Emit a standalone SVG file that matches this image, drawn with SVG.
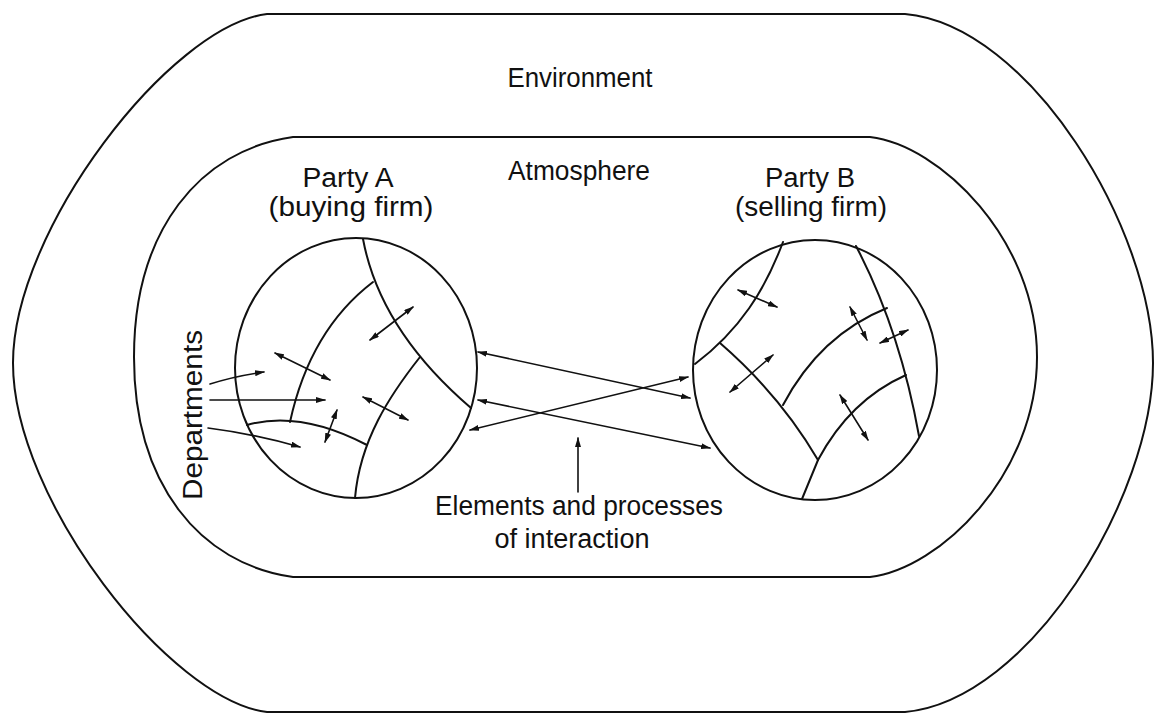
<svg xmlns="http://www.w3.org/2000/svg" width="1160" height="725" viewBox="0 0 1160 725">
<style>
.ln{fill:none;stroke:#111;stroke-width:2;stroke-linecap:round}
.ar{fill:none;stroke:#111;stroke-width:1.6;stroke-linecap:round}
.dbl{marker-start:url(#ah);marker-end:url(#ah)}
.one{marker-end:url(#ah)}
text{font-family:"Liberation Sans",Arial,sans-serif;font-size:27px;fill:#111;text-anchor:middle}
</style>
<defs>
<marker id="ah" viewBox="0 0 10 6" refX="9" refY="3" markerWidth="10" markerHeight="6" markerUnits="userSpaceOnUse" orient="auto-start-reverse">
<path d="M0,0 L10,3 L0,6 z" fill="#111"/>
</marker>
</defs>
<rect width="1160" height="725" fill="#fff"/>
<g id="environment">
<path class="ln" d="M267,14 L905,14 C1030,25 1153,230 1153,363 C1153,496 1030,701 905,712 L267,712 C170,700 13,500 13,363 C13,230 170,26 267,14 Z"/>
<text x="580" y="87" textLength="145" lengthAdjust="spacingAndGlyphs">Environment</text>
</g>
<g id="atmosphere">
<path class="ln" d="M293,137 L870,137 C940,145 1037,240 1037,357 C1037,474 940,569 870,577 L293,577 C200,564 134,484 134,357 C134,230 200,150 293,137 Z"/>
<text x="579" y="180" textLength="142" lengthAdjust="spacingAndGlyphs">Atmosphere</text>
</g>
<g id="partyA">
<text x="348" y="187" textLength="91" lengthAdjust="spacingAndGlyphs">Party A</text>
<text x="351" y="216" textLength="165" lengthAdjust="spacingAndGlyphs">(buying firm)</text>
<ellipse class="ln" cx="356" cy="368" rx="121" ry="130"/>
<path class="ln" d="M363,239 Q380,330 471,408"/>
<path class="ln" d="M373,282 Q310,330 290,422"/>
<path class="ln" d="M420,357 C390,395 360,440 355,498"/>
<path class="ln" d="M247,425 Q300,410 367,445"/>
<path class="ar dbl" d="M370,340 L413,307"/>
<path class="ar dbl" d="M275,353 L330,380"/>
<path class="ar dbl" d="M363,397 L408,420"/>
<path class="ar dbl" d="M325,442 L337,410"/>
</g>
<g id="departments">
<text transform="translate(202,415) rotate(-90)" textLength="170" lengthAdjust="spacingAndGlyphs">Departments</text>
<path class="ar one" d="M210,384 Q235,376 264,372"/>
<path class="ar one" d="M210,400 L325,400"/>
<path class="ar one" d="M208,428 Q255,434 300,447"/>
</g>
<g id="partyB">
<text x="810" y="187" textLength="90" lengthAdjust="spacingAndGlyphs">Party B</text>
<text x="811" y="216" textLength="152" lengthAdjust="spacingAndGlyphs">(selling firm)</text>
<ellipse class="ln" cx="815" cy="370" rx="122" ry="130"/>
<path class="ln" d="M783,242 C765,290 740,330 695,364"/>
<path class="ln" d="M720,343 Q780,395 818,460"/>
<path class="ln" d="M818,460 L802,499"/>
<path class="ln" d="M856,246 Q900,330 919,436"/>
<path class="ln" d="M783,405 Q820,335 887,308"/>
<path class="ln" d="M818,460 Q850,400 906,375"/>
<path class="ar dbl" d="M738,290 L777,307"/>
<path class="ar dbl" d="M730,392 L773,355"/>
<path class="ar dbl" d="M850,307 L867,340"/>
<path class="ar dbl" d="M880,343 L908,330"/>
<path class="ar dbl" d="M840,395 L868,440"/>
</g>
<g id="interaction">
<text x="579" y="515" textLength="288" lengthAdjust="spacingAndGlyphs">Elements and processes</text>
<text x="572" y="548" textLength="155" lengthAdjust="spacingAndGlyphs">of interaction</text>
</g>
<g id="connectors">
<path class="ar dbl" d="M478,352 L690,398"/>
<path class="ar dbl" d="M478,400 L710,448"/>
<path class="ar dbl" d="M470,430 L688,377"/>
<path class="ar one" d="M578,492 L578,438"/>
</g>
</svg>
